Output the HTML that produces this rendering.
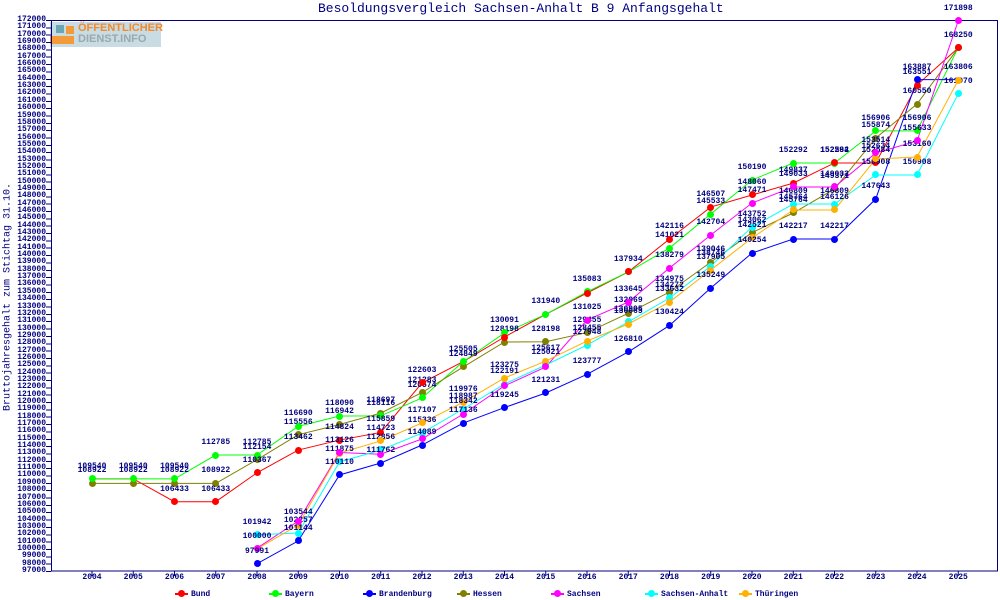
<!DOCTYPE html>
<html><head><meta charset="utf-8"><style>
body{margin:0;background:#fff}
#c{position:relative;width:1000px;height:600px;overflow:hidden;background:#fff;font-family:"Liberation Mono",monospace;color:#000080}
.p{position:absolute;width:7px;height:7px;border-radius:50%;left:calc(88.5px + var(--k)*41.25px);top:calc(567.5px - (var(--v) - 97000)*0.0073467px)}
.l{position:absolute;left:calc(92px + var(--k)*41.25px);top:calc(571px - (var(--v) - 97000)*0.0073467px - 17px);transform:translateX(-50%);font:bold 8px "Liberation Mono",monospace;line-height:9px;white-space:nowrap}
.y{position:absolute;right:954px;top:calc(571px - (var(--v) - 97000)*0.0073467px - 5px);font:bold 8px "Liberation Mono",monospace;line-height:9px}
.x{position:absolute;top:573px;left:calc(92px + var(--k)*41.25px);transform:translateX(-50%);font:bold 8px "Liberation Mono",monospace}
.r .p{background:#f00}.g .p{background:#0f0}.b .p{background:#00f}.o .p{background:#808000}.m .p{background:#f0f}.c .p{background:#0ff}.t .p{background:#ffb000}
.lg{position:absolute;top:590px;font:bold 8px "Liberation Mono",monospace;line-height:10px}
.lg i{display:inline-block;width:13px;height:2px;vertical-align:middle;margin-right:3px;position:relative}
.lg i:after{content:"";position:absolute;left:3px;top:-3px;width:7px;height:7px;border-radius:50%;background:inherit}
</style></head><body><div id="c">
<div style="position:absolute;left:318px;top:1px;font-size:13px;line-height:15px">Besoldungsvergleich Sachsen-Anhalt B 9 Anfangsgehalt</div>
<div style="position:absolute;left:8px;top:297px;transform:translate(-50%,-50%) rotate(-90deg);font-size:10px;white-space:nowrap">Bruttojahresgehalt zum Stichtag 31.10.</div>
<div style="position:absolute;left:50px;top:22px;width:111px;height:25px;background:#c9dbe3"></div>
<div style="position:absolute;left:56px;top:25px;width:8px;height:8px;background:#6aa7b5"></div>
<div style="position:absolute;left:66px;top:26px;width:8px;height:8px;background:#f39a3a"></div>
<div style="position:absolute;left:50px;top:36px;width:24px;height:8px;background:#f39a3a"></div>
<div style="position:absolute;left:78px;top:23px;font:bold 11px 'Liberation Sans',sans-serif;color:#f08a2a;line-height:11px">ÖFFENTLICHER</div>
<div style="position:absolute;left:78px;top:34px;font:bold 11px 'Liberation Sans',sans-serif;color:#9aa;line-height:11px">DIENST.INFO</div>
<svg width="1000" height="600" style="position:absolute;left:0;top:0">
<rect x="51.5" y="20.5" width="946" height="550.5" fill="none" stroke="#000080" stroke-width="1"/>
<g stroke="#000080"><line x1="92" y1="571" x2="92" y2="576"/><line x1="133.25" y1="571" x2="133.25" y2="576"/><line x1="174.5" y1="571" x2="174.5" y2="576"/><line x1="215.75" y1="571" x2="215.75" y2="576"/><line x1="257" y1="571" x2="257" y2="576"/><line x1="298.25" y1="571" x2="298.25" y2="576"/><line x1="339.5" y1="571" x2="339.5" y2="576"/><line x1="380.75" y1="571" x2="380.75" y2="576"/><line x1="422" y1="571" x2="422" y2="576"/><line x1="463.25" y1="571" x2="463.25" y2="576"/><line x1="504.5" y1="571" x2="504.5" y2="576"/><line x1="545.75" y1="571" x2="545.75" y2="576"/><line x1="587" y1="571" x2="587" y2="576"/><line x1="628.25" y1="571" x2="628.25" y2="576"/><line x1="669.5" y1="571" x2="669.5" y2="576"/><line x1="710.75" y1="571" x2="710.75" y2="576"/><line x1="752" y1="571" x2="752" y2="576"/><line x1="793.25" y1="571" x2="793.25" y2="576"/><line x1="834.5" y1="571" x2="834.5" y2="576"/><line x1="875.75" y1="571" x2="875.75" y2="576"/><line x1="917" y1="571" x2="917" y2="576"/><line x1="958.25" y1="571" x2="958.25" y2="576"/></g>
<g transform="translate(92 571) scale(41.25 -0.0073467) translate(0 -97000)" fill="none" stroke-width="1">
<polyline vector-effect="non-scaling-stroke" stroke="#f00" points="0,109540 1,109540 2,106433 3,106433 4,110367 5,113462 6,114824 7,115859 8,122603 9,125505 10,128850 11,131940 12,134840 13,137700 14,142190 15,146540 16,148180 17,149800 18,152540 19,152540 20,163150 21,168200"/>
<polyline vector-effect="non-scaling-stroke" stroke="#0f0" points="0,109540 1,109540 2,109540 3,112785 4,112785 5,116690 6,118090 7,118116 8,120550 9,125505 10,129400 11,131940 12,135000 13,137700 14,140960 15,145590 16,150220 17,152530 18,152530 19,156906 20,156906 21,168250"/>
<polyline vector-effect="non-scaling-stroke" stroke="#00f" points="4,97991 5,101100 6,110070 7,111700 8,114150 9,117136 10,119245 11,121231 12,123777 13,126810 14,130424 15,135520 16,140280 17,142190 18,142190 19,147630 20,163887 21,163887"/>
<polyline vector-effect="non-scaling-stroke" stroke="#808000" points="0,108922 1,108922 2,108922 3,108922 4,112154 5,115556 6,116942 7,118500 8,121283 9,124770 10,128170 11,128198 12,129455 13,132069 14,134975 15,139046 16,143062 17,145730 18,149000 19,155930 20,160560 21,168200"/>
<polyline vector-effect="non-scaling-stroke" stroke="#f0f" points="4,100100 5,103800 6,113126 7,112900 8,114970 9,118370 10,122200 11,124770 12,131160 13,133610 14,138240 15,142730 16,147090 17,149270 18,149270 19,153900 20,155530 21,171898"/>
<polyline vector-effect="non-scaling-stroke" stroke="#0ff" points="4,101942 5,102170 6,111840 7,113470 8,115780 9,119050 10,122450 11,125040 12,127760 13,130900 14,134160 15,138510 16,143820 17,146950 18,146950 19,150908 20,150908 21,161970"/>
<polyline vector-effect="non-scaling-stroke" stroke="#ffb000" points="4,100000 5,103260 6,113060 7,114700 8,117150 9,119976 10,123270 11,125580 12,128300 13,130620 14,133610 15,137970 16,142330 17,146140 18,146140 19,153080 20,153350 21,163806"/>
</g>
</svg>
<div style="position:absolute;left:46px;top:20px;width:5px;height:552px;background:repeating-linear-gradient(to top,#000080 0 1px,transparent 1px 7.3467px)"></div>
<div class="y" style="--v:172000">172000</div><div class="y" style="--v:171000">171000</div><div class="y" style="--v:170000">170000</div><div class="y" style="--v:169000">169000</div><div class="y" style="--v:168000">168000</div><div class="y" style="--v:167000">167000</div><div class="y" style="--v:166000">166000</div><div class="y" style="--v:165000">165000</div><div class="y" style="--v:164000">164000</div><div class="y" style="--v:163000">163000</div><div class="y" style="--v:162000">162000</div><div class="y" style="--v:161000">161000</div><div class="y" style="--v:160000">160000</div><div class="y" style="--v:159000">159000</div><div class="y" style="--v:158000">158000</div><div class="y" style="--v:157000">157000</div><div class="y" style="--v:156000">156000</div><div class="y" style="--v:155000">155000</div><div class="y" style="--v:154000">154000</div><div class="y" style="--v:153000">153000</div><div class="y" style="--v:152000">152000</div><div class="y" style="--v:151000">151000</div><div class="y" style="--v:150000">150000</div><div class="y" style="--v:149000">149000</div><div class="y" style="--v:148000">148000</div><div class="y" style="--v:147000">147000</div><div class="y" style="--v:146000">146000</div><div class="y" style="--v:145000">145000</div><div class="y" style="--v:144000">144000</div><div class="y" style="--v:143000">143000</div><div class="y" style="--v:142000">142000</div><div class="y" style="--v:141000">141000</div><div class="y" style="--v:140000">140000</div><div class="y" style="--v:139000">139000</div><div class="y" style="--v:138000">138000</div><div class="y" style="--v:137000">137000</div><div class="y" style="--v:136000">136000</div><div class="y" style="--v:135000">135000</div><div class="y" style="--v:134000">134000</div><div class="y" style="--v:133000">133000</div><div class="y" style="--v:132000">132000</div><div class="y" style="--v:131000">131000</div><div class="y" style="--v:130000">130000</div><div class="y" style="--v:129000">129000</div><div class="y" style="--v:128000">128000</div><div class="y" style="--v:127000">127000</div><div class="y" style="--v:126000">126000</div><div class="y" style="--v:125000">125000</div><div class="y" style="--v:124000">124000</div><div class="y" style="--v:123000">123000</div><div class="y" style="--v:122000">122000</div><div class="y" style="--v:121000">121000</div><div class="y" style="--v:120000">120000</div><div class="y" style="--v:119000">119000</div><div class="y" style="--v:118000">118000</div><div class="y" style="--v:117000">117000</div><div class="y" style="--v:116000">116000</div><div class="y" style="--v:115000">115000</div><div class="y" style="--v:114000">114000</div><div class="y" style="--v:113000">113000</div><div class="y" style="--v:112000">112000</div><div class="y" style="--v:111000">111000</div><div class="y" style="--v:110000">110000</div><div class="y" style="--v:109000">109000</div><div class="y" style="--v:108000">108000</div><div class="y" style="--v:107000">107000</div><div class="y" style="--v:106000">106000</div><div class="y" style="--v:105000">105000</div><div class="y" style="--v:104000">104000</div><div class="y" style="--v:103000">103000</div><div class="y" style="--v:102000">102000</div><div class="y" style="--v:101000">101000</div><div class="y" style="--v:100000">100000</div><div class="y" style="--v:99000">99000</div><div class="y" style="--v:98000">98000</div><div class="y" style="--v:97000">97000</div>
<div class="x" style="--k:0">2004</div><div class="x" style="--k:1">2005</div><div class="x" style="--k:2">2006</div><div class="x" style="--k:3">2007</div><div class="x" style="--k:4">2008</div><div class="x" style="--k:5">2009</div><div class="x" style="--k:6">2010</div><div class="x" style="--k:7">2011</div><div class="x" style="--k:8">2012</div><div class="x" style="--k:9">2013</div><div class="x" style="--k:10">2014</div><div class="x" style="--k:11">2015</div><div class="x" style="--k:12">2016</div><div class="x" style="--k:13">2017</div><div class="x" style="--k:14">2018</div><div class="x" style="--k:15">2019</div><div class="x" style="--k:16">2020</div><div class="x" style="--k:17">2021</div><div class="x" style="--k:18">2022</div><div class="x" style="--k:19">2023</div><div class="x" style="--k:20">2024</div><div class="x" style="--k:21">2025</div>

<div class="o">
<i class="p" style="--k:0;--v:108922"></i><b class="l" style="--k:0;--v:108922">108922</b>
<i class="p" style="--k:1;--v:108922"></i><b class="l" style="--k:1;--v:108922">108922</b>
<i class="p" style="--k:2;--v:108922"></i><b class="l" style="--k:2;--v:108922">108922</b>
<i class="p" style="--k:3;--v:108922"></i><b class="l" style="--k:3;--v:108922">108922</b>
<i class="p" style="--k:4;--v:112154"></i><b class="l" style="--k:4;--v:112154">112154</b>
<i class="p" style="--k:5;--v:115556"></i><b class="l" style="--k:5;--v:115556">115556</b>
<i class="p" style="--k:6;--v:116942"></i><b class="l" style="--k:6;--v:116942">116942</b>
<i class="p" style="--k:7;--v:118500"></i><b class="l" style="--k:7;--v:118500">118697</b>
<i class="p" style="--k:8;--v:121283"></i><b class="l" style="--k:8;--v:121283">121283</b>
<i class="p" style="--k:9;--v:124770"></i><b class="l" style="--k:9;--v:124770">124849</b>
<i class="p" style="--k:10;--v:128170"></i><b class="l" style="--k:10;--v:128170">128198</b>
<i class="p" style="--k:11;--v:128198"></i><b class="l" style="--k:11;--v:128198">128198</b>
<i class="p" style="--k:12;--v:129455"></i><b class="l" style="--k:12;--v:129455">129455</b>
<i class="p" style="--k:13;--v:132069"></i><b class="l" style="--k:13;--v:132069">132069</b>
<i class="p" style="--k:14;--v:134975"></i><b class="l" style="--k:14;--v:134975">134975</b>
<i class="p" style="--k:15;--v:139046"></i><b class="l" style="--k:15;--v:139046">139046</b>
<i class="p" style="--k:16;--v:143062"></i><b class="l" style="--k:16;--v:143062">143062</b>
<i class="p" style="--k:17;--v:145730"></i><b class="l" style="--k:17;--v:145730">145764</b>
<i class="p" style="--k:18;--v:149000"></i><b class="l" style="--k:18;--v:149000">149371</b>
<i class="p" style="--k:19;--v:155930"></i><b class="l" style="--k:19;--v:155930">155874</b>
<i class="p" style="--k:20;--v:160560"></i><b class="l" style="--k:20;--v:160560">160550</b>
<i class="p" style="--k:21;--v:168200"></i>
</div>
<div class="g">
<i class="p" style="--k:0;--v:109540"></i><b class="l" style="--k:0;--v:109540">109540</b>
<i class="p" style="--k:1;--v:109540"></i><b class="l" style="--k:1;--v:109540">109540</b>
<i class="p" style="--k:2;--v:109540"></i><b class="l" style="--k:2;--v:109540">109540</b>
<i class="p" style="--k:3;--v:112785"></i><b class="l" style="--k:3;--v:112785">112785</b>
<i class="p" style="--k:4;--v:112785"></i><b class="l" style="--k:4;--v:112785">112785</b>
<i class="p" style="--k:5;--v:116690"></i><b class="l" style="--k:5;--v:116690">116690</b>
<i class="p" style="--k:6;--v:118090"></i><b class="l" style="--k:6;--v:118090">118090</b>
<i class="p" style="--k:7;--v:118116"></i><b class="l" style="--k:7;--v:118116">118116</b>
<i class="p" style="--k:8;--v:120550"></i><b class="l" style="--k:8;--v:120550">120574</b>
<i class="p" style="--k:9;--v:125505"></i><b class="l" style="--k:9;--v:125505">125505</b>
<i class="p" style="--k:10;--v:129400"></i><b class="l" style="--k:10;--v:129400">130091</b>
<i class="p" style="--k:11;--v:131940"></i><b class="l" style="--k:11;--v:131940">131940</b>
<i class="p" style="--k:12;--v:135000"></i><b class="l" style="--k:12;--v:135000">135083</b>
<i class="p" style="--k:13;--v:137700"></i><b class="l" style="--k:13;--v:137700">137934</b>
<i class="p" style="--k:14;--v:140960"></i><b class="l" style="--k:14;--v:140960">141021</b>
<i class="p" style="--k:15;--v:145590"></i><b class="l" style="--k:15;--v:145590">145533</b>
<i class="p" style="--k:16;--v:150220"></i><b class="l" style="--k:16;--v:150220">150190</b>
<i class="p" style="--k:17;--v:152530"></i><b class="l" style="--k:17;--v:152530">152292</b>
<i class="p" style="--k:18;--v:152530"></i><b class="l" style="--k:18;--v:152530">152292</b>
<i class="p" style="--k:19;--v:156906"></i><b class="l" style="--k:19;--v:156906">156906</b>
<i class="p" style="--k:20;--v:156906"></i><b class="l" style="--k:20;--v:156906">156906</b>
<i class="p" style="--k:21;--v:168250"></i><b class="l" style="--k:21;--v:168250">168250</b>
</div>
<div class="r">
<i class="p" style="--k:2;--v:106433"></i><b class="l" style="--k:2;--v:106433">106433</b>
<i class="p" style="--k:3;--v:106433"></i><b class="l" style="--k:3;--v:106433">106433</b>
<i class="p" style="--k:4;--v:110367"></i><b class="l" style="--k:4;--v:110367">110367</b>
<i class="p" style="--k:5;--v:113462"></i><b class="l" style="--k:5;--v:113462">113462</b>
<i class="p" style="--k:6;--v:114824"></i><b class="l" style="--k:6;--v:114824">114824</b>
<i class="p" style="--k:7;--v:115859"></i><b class="l" style="--k:7;--v:115859">115859</b>
<i class="p" style="--k:8;--v:122603"></i><b class="l" style="--k:8;--v:122603">122603</b>
<i class="p" style="--k:10;--v:128850"></i>
<i class="p" style="--k:12;--v:134840"></i>
<i class="p" style="--k:13;--v:137700"></i>
<i class="p" style="--k:14;--v:142190"></i><b class="l" style="--k:14;--v:142190">142116</b>
<i class="p" style="--k:15;--v:146540"></i><b class="l" style="--k:15;--v:146540">146507</b>
<i class="p" style="--k:16;--v:148180"></i><b class="l" style="--k:16;--v:148180">148060</b>
<i class="p" style="--k:17;--v:149800"></i><b class="l" style="--k:17;--v:149800">149837</b>
<i class="p" style="--k:18;--v:152540"></i><b class="l" style="--k:18;--v:152540">152584</b>
<i class="p" style="--k:19;--v:152540"></i><b class="l" style="--k:19;--v:152540">152584</b>
<i class="p" style="--k:20;--v:163150"></i><b class="l" style="--k:20;--v:163150">163551</b>
<i class="p" style="--k:21;--v:168200"></i>
</div>
<div class="c">
<i class="p" style="--k:4;--v:101942"></i><b class="l" style="--k:4;--v:101942">101942</b>
<i class="p" style="--k:5;--v:102170"></i><b class="l" style="--k:5;--v:102170">102257</b>
<i class="p" style="--k:6;--v:111840"></i><b class="l" style="--k:6;--v:111840">111875</b>
<i class="p" style="--k:7;--v:113470"></i><b class="l" style="--k:7;--v:113470">112856</b>
<i class="p" style="--k:8;--v:115780"></i><b class="l" style="--k:8;--v:115780">115336</b>
<i class="p" style="--k:9;--v:119050"></i><b class="l" style="--k:9;--v:119050">118987</b>
<i class="p" style="--k:10;--v:122450"></i><b class="l" style="--k:10;--v:122450">122191</b>
<i class="p" style="--k:11;--v:125040"></i><b class="l" style="--k:11;--v:125040">125021</b>
<i class="p" style="--k:12;--v:127760"></i><b class="l" style="--k:12;--v:127760">127948</b>
<i class="p" style="--k:13;--v:130900"></i><b class="l" style="--k:13;--v:130900">130905</b>
<i class="p" style="--k:14;--v:134160"></i><b class="l" style="--k:14;--v:134160">134272</b>
<i class="p" style="--k:15;--v:138510"></i><b class="l" style="--k:15;--v:138510">138746</b>
<i class="p" style="--k:16;--v:143820"></i><b class="l" style="--k:16;--v:143820">143752</b>
<i class="p" style="--k:17;--v:146950"></i><b class="l" style="--k:17;--v:146950">146809</b>
<i class="p" style="--k:18;--v:146950"></i><b class="l" style="--k:18;--v:146950">146809</b>
<i class="p" style="--k:19;--v:150908"></i><b class="l" style="--k:19;--v:150908">150908</b>
<i class="p" style="--k:20;--v:150908"></i><b class="l" style="--k:20;--v:150908">150908</b>
<i class="p" style="--k:21;--v:161970"></i><b class="l" style="--k:21;--v:161970">161970</b>
</div>
<div class="t">
<i class="p" style="--k:4;--v:100000"></i><b class="l" style="--k:4;--v:100000">100000</b>
<i class="p" style="--k:5;--v:103260"></i><b class="l" style="--k:5;--v:103260">103544</b>
<i class="p" style="--k:6;--v:113060"></i><b class="l" style="--k:6;--v:113060">113126</b>
<i class="p" style="--k:7;--v:114700"></i><b class="l" style="--k:7;--v:114700">114723</b>
<i class="p" style="--k:8;--v:117150"></i><b class="l" style="--k:8;--v:117150">117107</b>
<i class="p" style="--k:9;--v:119976"></i><b class="l" style="--k:9;--v:119976">119976</b>
<i class="p" style="--k:10;--v:123270"></i><b class="l" style="--k:10;--v:123270">123275</b>
<i class="p" style="--k:11;--v:125580"></i><b class="l" style="--k:11;--v:125580">125617</b>
<i class="p" style="--k:12;--v:128300"></i><b class="l" style="--k:12;--v:128300">128455</b>
<i class="p" style="--k:13;--v:130620"></i><b class="l" style="--k:13;--v:130620">130065</b>
<i class="p" style="--k:14;--v:133610"></i><b class="l" style="--k:14;--v:133610">133632</b>
<i class="p" style="--k:15;--v:137970"></i><b class="l" style="--k:15;--v:137970">137905</b>
<i class="p" style="--k:16;--v:142330"></i><b class="l" style="--k:16;--v:142330">142521</b>
<i class="p" style="--k:17;--v:146140"></i><b class="l" style="--k:17;--v:146140">145764</b>
<i class="p" style="--k:18;--v:146140"></i><b class="l" style="--k:18;--v:146140">146126</b>
<i class="p" style="--k:19;--v:153080"></i><b class="l" style="--k:19;--v:153080">152634</b>
<i class="p" style="--k:20;--v:153350"></i><b class="l" style="--k:20;--v:153350">153160</b>
<i class="p" style="--k:21;--v:163806"></i><b class="l" style="--k:21;--v:163806">163806</b>
</div>
<div class="m">
<i class="p" style="--k:4;--v:100100"></i>
<i class="p" style="--k:5;--v:103800"></i>
<i class="p" style="--k:6;--v:113126"></i>
<i class="p" style="--k:7;--v:112900"></i>
<i class="p" style="--k:8;--v:114970"></i>
<i class="p" style="--k:9;--v:118370"></i><b class="l" style="--k:9;--v:118370">118342</b>
<i class="p" style="--k:10;--v:122200"></i>
<i class="p" style="--k:11;--v:124770"></i>
<i class="p" style="--k:12;--v:131160"></i><b class="l" style="--k:12;--v:131160">131025</b>
<i class="p" style="--k:13;--v:133610"></i><b class="l" style="--k:13;--v:133610">133645</b>
<i class="p" style="--k:14;--v:138240"></i><b class="l" style="--k:14;--v:138240">138279</b>
<i class="p" style="--k:15;--v:142730"></i><b class="l" style="--k:15;--v:142730">142704</b>
<i class="p" style="--k:16;--v:147090"></i><b class="l" style="--k:16;--v:147090">147471</b>
<i class="p" style="--k:17;--v:149270"></i><b class="l" style="--k:17;--v:149270">149033</b>
<i class="p" style="--k:18;--v:149270"></i><b class="l" style="--k:18;--v:149270">149033</b>
<i class="p" style="--k:19;--v:153900"></i><b class="l" style="--k:19;--v:153900">153514</b>
<i class="p" style="--k:20;--v:155530"></i><b class="l" style="--k:20;--v:155530">155633</b>
<i class="p" style="--k:21;--v:171898"></i><b class="l" style="--k:21;--v:171898">171898</b>
</div>
<div class="b">
<i class="p" style="--k:4;--v:97991"></i><b class="l" style="--k:4;--v:97991">97991</b>
<i class="p" style="--k:5;--v:101100"></i><b class="l" style="--k:5;--v:101100">101144</b>
<i class="p" style="--k:6;--v:110070"></i><b class="l" style="--k:6;--v:110070">110110</b>
<i class="p" style="--k:7;--v:111700"></i><b class="l" style="--k:7;--v:111700">111762</b>
<i class="p" style="--k:8;--v:114150"></i><b class="l" style="--k:8;--v:114150">114089</b>
<i class="p" style="--k:9;--v:117136"></i><b class="l" style="--k:9;--v:117136">117136</b>
<i class="p" style="--k:10;--v:119245"></i><b class="l" style="--k:10;--v:119245">119245</b>
<i class="p" style="--k:11;--v:121231"></i><b class="l" style="--k:11;--v:121231">121231</b>
<i class="p" style="--k:12;--v:123777"></i><b class="l" style="--k:12;--v:123777">123777</b>
<i class="p" style="--k:13;--v:126810"></i><b class="l" style="--k:13;--v:126810">126810</b>
<i class="p" style="--k:14;--v:130424"></i><b class="l" style="--k:14;--v:130424">130424</b>
<i class="p" style="--k:15;--v:135520"></i><b class="l" style="--k:15;--v:135520">135249</b>
<i class="p" style="--k:16;--v:140280"></i><b class="l" style="--k:16;--v:140280">140254</b>
<i class="p" style="--k:17;--v:142190"></i><b class="l" style="--k:17;--v:142190">142217</b>
<i class="p" style="--k:18;--v:142190"></i><b class="l" style="--k:18;--v:142190">142217</b>
<i class="p" style="--k:19;--v:147630"></i><b class="l" style="--k:19;--v:147630">147643</b>
<i class="p" style="--k:20;--v:163887"></i><b class="l" style="--k:20;--v:163887">163887</b>
</div>

<div class="lg" style="left:175px"><i style="background:#f00"></i>Bund</div>
<div class="lg" style="left:269px"><i style="background:#0f0"></i>Bayern</div>
<div class="lg" style="left:363px"><i style="background:#00f"></i>Brandenburg</div>
<div class="lg" style="left:457px"><i style="background:#808000"></i>Hessen</div>
<div class="lg" style="left:551px"><i style="background:#f0f"></i>Sachsen</div>
<div class="lg" style="left:645px"><i style="background:#0ff"></i>Sachsen-Anhalt</div>
<div class="lg" style="left:739px"><i style="background:#ffb000"></i>Thüringen</div>
</div></body></html>
